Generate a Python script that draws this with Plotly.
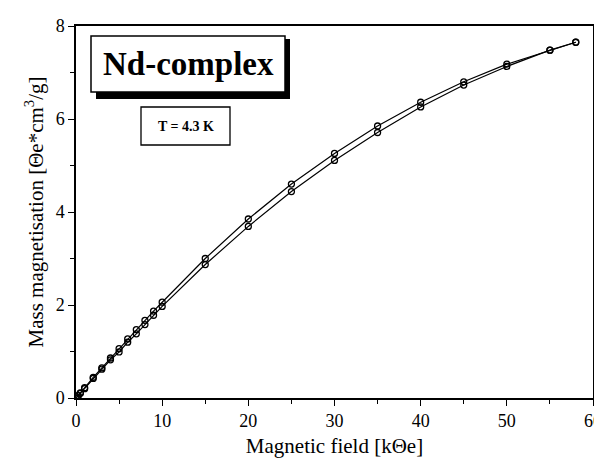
import plotly.graph_objects as go

# Data
field = [0, 0.25, 0.5, 1, 2, 3, 4, 5, 6, 7, 8, 9, 10, 15, 20, 25, 30, 35, 40, 45, 50, 55, 58]
m_down = [0, 0.05, 0.11, 0.22, 0.445, 0.65, 0.86, 1.06, 1.27, 1.47, 1.67, 1.87, 2.06,
          3.00, 3.85, 4.60, 5.26, 5.85, 6.36, 6.80, 7.18, 7.48, 7.65]
m_up = [0, 0.05, 0.10, 0.20, 0.42, 0.62, 0.82, 0.99, 1.20, 1.38, 1.58, 1.78, 1.97,
        2.87, 3.69, 4.44, 5.11, 5.71, 6.26, 6.73, 7.13, 7.48, 7.65]
x_ticks = [0, 10, 20, 30, 40, 50, 60]
y_ticks = [0, 2, 4, 6, 8]

FONT = "Liberation Serif"

fig = go.Figure()
for ys in (m_down, m_up):
    fig.add_trace(go.Scatter(
        x=field, y=ys, mode="lines+markers",
        line=dict(color="black", width=1.2),
        marker=dict(symbol="circle-open", size=6, color="black", line=dict(width=1.3)),
        showlegend=False,
    ))

W, H = 602, 459
L, R, T, B = 68, 17, 18, 69
pw, ph = W - L - R, H - T - B


def px(x):
    return (x - L) / pw


def py(y):
    return (H - B - y) / ph


shapes = [
    # shadow of title box
    dict(type="rect", xref="paper", yref="paper", x0=px(88), x1=px(282), y0=py(91), y1=py(31),
         fillcolor="black", line=dict(width=0), layer="above"),
    dict(type="rect", xref="paper", yref="paper", x0=px(83), x1=px(277), y0=py(84), y1=py(28),
         fillcolor="white", line=dict(color="black", width=1.5), layer="above"),
    dict(type="rect", xref="paper", yref="paper", x0=px(133), x1=px(222), y0=py(137), y1=py(99),
         fillcolor="white", line=dict(color="black", width=1.3), layer="above"),
]

annotations = [
    dict(xref="paper", yref="paper", x=px(180), y=py(56), text="<b>Nd-complex</b>",
         showarrow=False, font=dict(family=FONT, size=33, color="black"),
         xanchor="center", yanchor="middle"),
    dict(xref="paper", yref="paper", x=px(177.5), y=py(118), text="<b>T = 4.3 K</b>",
         showarrow=False, font=dict(family=FONT, size=14, color="black"),
         xanchor="center", yanchor="middle"),
]

axis_common = dict(
    showgrid=False, zeroline=False, showline=True, linecolor="black", linewidth=1.5,
    mirror=True, ticks="outside", ticklen=6, tickwidth=1.2, tickcolor="black",
    tickfont=dict(family=FONT, size=18, color="black"), automargin=False,
)

fig.update_layout(
    width=W, height=H,
    margin=dict(l=L, r=R, t=T, b=B),
    paper_bgcolor="white", plot_bgcolor="white",
    shapes=shapes, annotations=annotations,
    xaxis=dict(range=[0, 60], tickvals=x_ticks,
               minor=dict(dtick=5, ticks="outside", ticklen=4, tickcolor="black"),
               title=dict(text="Magnetic field [kΘe]", font=dict(family=FONT, size=21, color="black"),
                          standoff=8),
               **axis_common),
    yaxis=dict(range=[0, 8], tickvals=y_ticks,
               minor=dict(dtick=1, ticks="outside", ticklen=4, tickcolor="black"),
               title=dict(text="Mass magnetisation [Θe*cm<sup>3</sup>/g]",
                          font=dict(family=FONT, size=21, color="black"), standoff=6),
               **axis_common),
)

fig.write_html("out.html")
